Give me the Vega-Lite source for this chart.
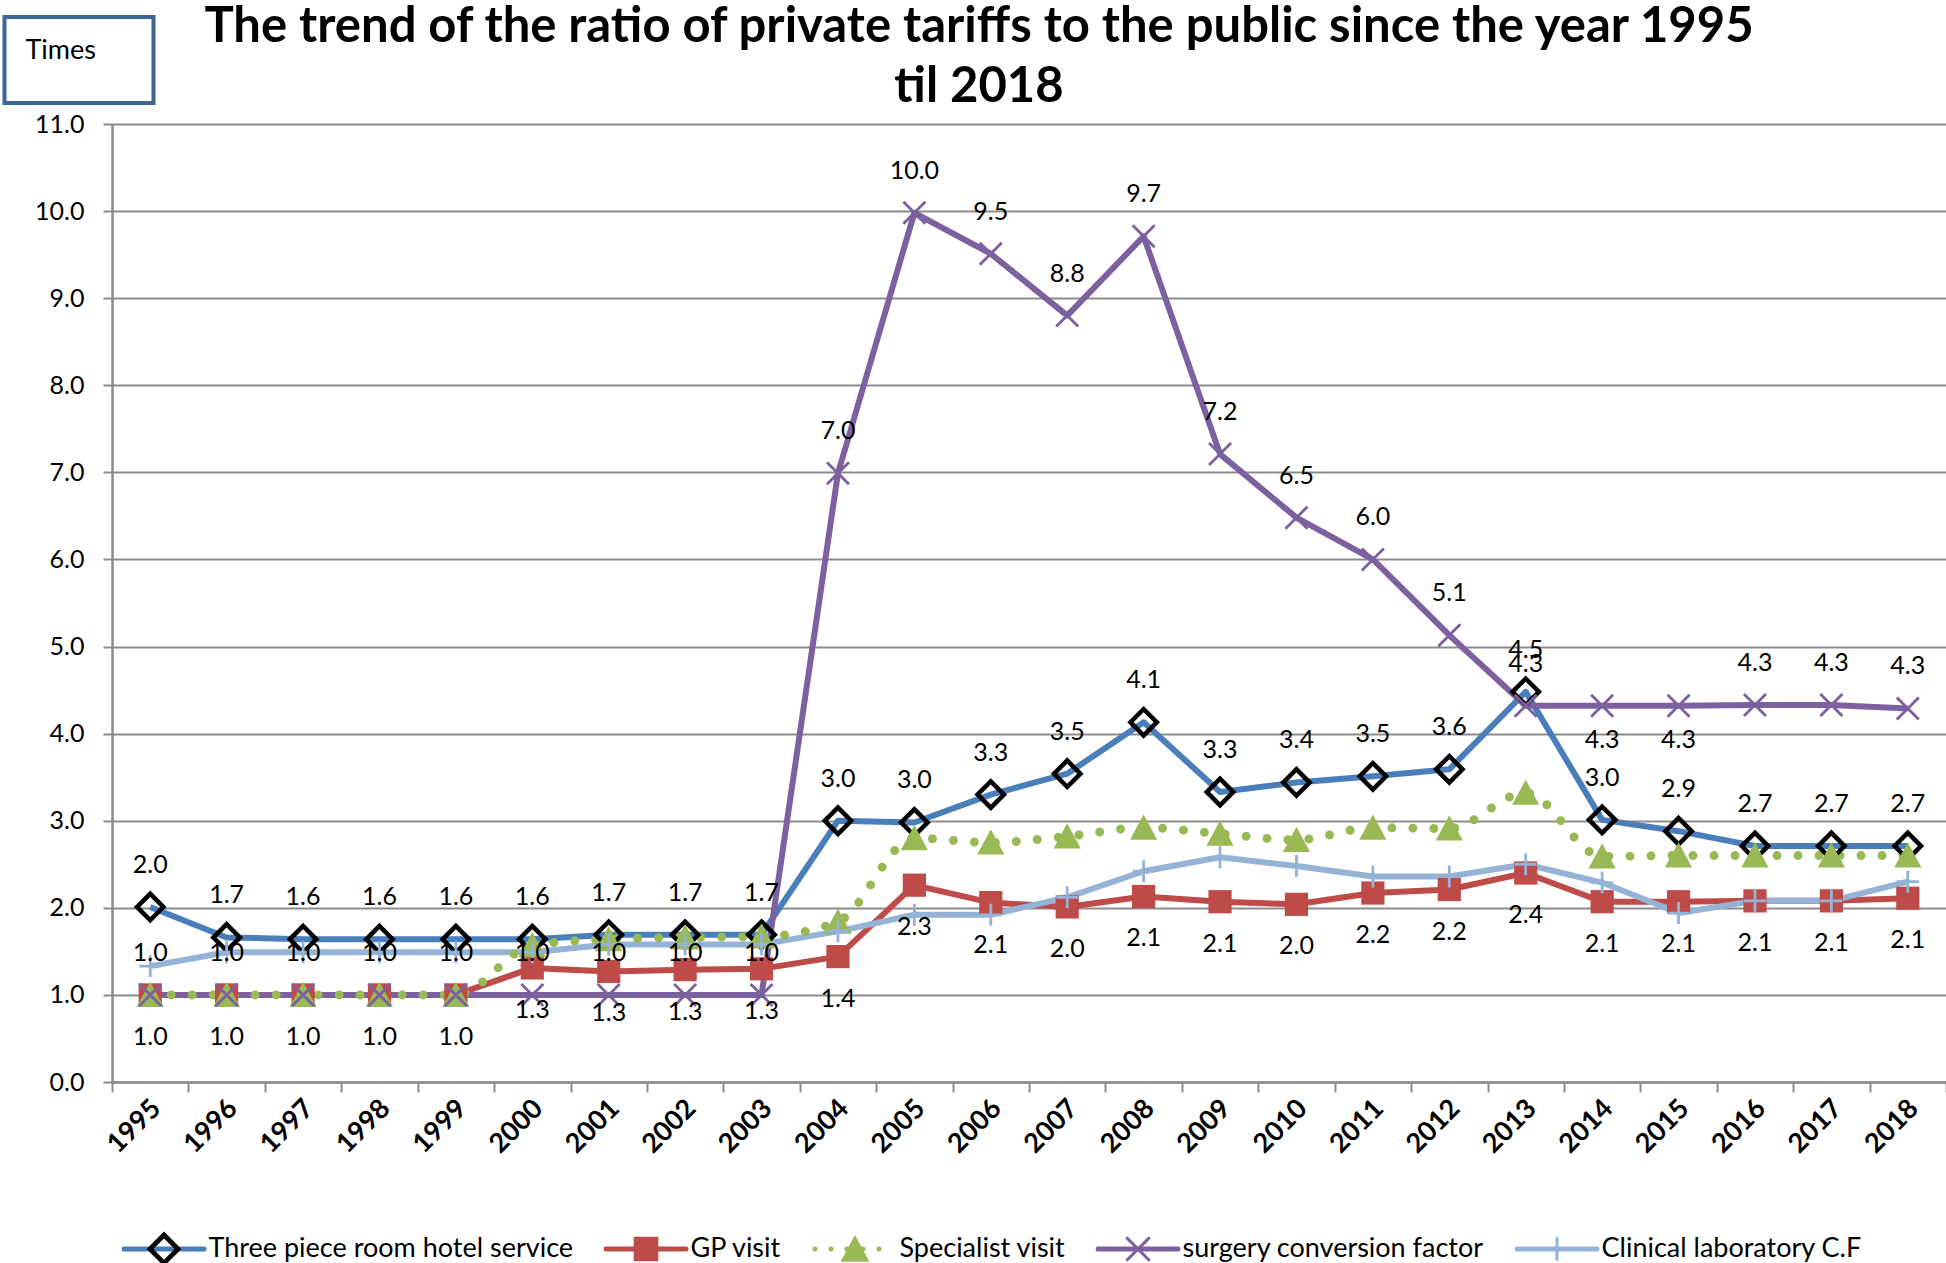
{
  "$schema": "https://vega.github.io/schema/vega-lite/v6.json",
  "width": 1834,
  "height": 958,
  "autosize": {"type": "none"},
  "padding": {"left": 112, "top": 124, "right": 0, "bottom": 181},
  "background": "white",
  "title": {
    "text": ["The trend of the ratio of private tariffs to the public since the year 1995", "til 2018"],
    "font": "Lato",
    "fontSize": 49,
    "fontWeight": "bold",
    "color": "black",
    "lineHeight": 60,
    "anchor": "middle",
    "frame": "group",
    "dx": -50,
    "offset": -97
  },
  "data": {
    "values": [
      {"year": "1995", "series": "Three piece room hotel service", "value": 2.01},
      {"year": "1996", "series": "Three piece room hotel service", "value": 1.66},
      {"year": "1997", "series": "Three piece room hotel service", "value": 1.64},
      {"year": "1998", "series": "Three piece room hotel service", "value": 1.64},
      {"year": "1999", "series": "Three piece room hotel service", "value": 1.64},
      {"year": "2000", "series": "Three piece room hotel service", "value": 1.64},
      {"year": "2001", "series": "Three piece room hotel service", "value": 1.69},
      {"year": "2002", "series": "Three piece room hotel service", "value": 1.69},
      {"year": "2003", "series": "Three piece room hotel service", "value": 1.69},
      {"year": "2004", "series": "Three piece room hotel service", "value": 3.0},
      {"year": "2005", "series": "Three piece room hotel service", "value": 2.98},
      {"year": "2006", "series": "Three piece room hotel service", "value": 3.3},
      {"year": "2007", "series": "Three piece room hotel service", "value": 3.54},
      {"year": "2008", "series": "Three piece room hotel service", "value": 4.13},
      {"year": "2009", "series": "Three piece room hotel service", "value": 3.33},
      {"year": "2010", "series": "Three piece room hotel service", "value": 3.44},
      {"year": "2011", "series": "Three piece room hotel service", "value": 3.51},
      {"year": "2012", "series": "Three piece room hotel service", "value": 3.59},
      {"year": "2013", "series": "Three piece room hotel service", "value": 4.48},
      {"year": "2014", "series": "Three piece room hotel service", "value": 3.01},
      {"year": "2015", "series": "Three piece room hotel service", "value": 2.88},
      {"year": "2016", "series": "Three piece room hotel service", "value": 2.71},
      {"year": "2017", "series": "Three piece room hotel service", "value": 2.71},
      {"year": "2018", "series": "Three piece room hotel service", "value": 2.71},
      {"year": "1995", "series": "GP visit", "value": 1.0},
      {"year": "1996", "series": "GP visit", "value": 1.0},
      {"year": "1997", "series": "GP visit", "value": 1.0},
      {"year": "1998", "series": "GP visit", "value": 1.0},
      {"year": "1999", "series": "GP visit", "value": 1.0},
      {"year": "2000", "series": "GP visit", "value": 1.31},
      {"year": "2001", "series": "GP visit", "value": 1.27},
      {"year": "2002", "series": "GP visit", "value": 1.29},
      {"year": "2003", "series": "GP visit", "value": 1.3},
      {"year": "2004", "series": "GP visit", "value": 1.44},
      {"year": "2005", "series": "GP visit", "value": 2.26},
      {"year": "2006", "series": "GP visit", "value": 2.06},
      {"year": "2007", "series": "GP visit", "value": 2.01},
      {"year": "2008", "series": "GP visit", "value": 2.13},
      {"year": "2009", "series": "GP visit", "value": 2.07},
      {"year": "2010", "series": "GP visit", "value": 2.04},
      {"year": "2011", "series": "GP visit", "value": 2.17},
      {"year": "2012", "series": "GP visit", "value": 2.21},
      {"year": "2013", "series": "GP visit", "value": 2.4},
      {"year": "2014", "series": "GP visit", "value": 2.07},
      {"year": "2015", "series": "GP visit", "value": 2.07},
      {"year": "2016", "series": "GP visit", "value": 2.08},
      {"year": "2017", "series": "GP visit", "value": 2.08},
      {"year": "2018", "series": "GP visit", "value": 2.11},
      {"year": "1995", "series": "Specialist visit", "value": 1.0},
      {"year": "1996", "series": "Specialist visit", "value": 1.0},
      {"year": "1997", "series": "Specialist visit", "value": 1.0},
      {"year": "1998", "series": "Specialist visit", "value": 1.0},
      {"year": "1999", "series": "Specialist visit", "value": 1.0},
      {"year": "2000", "series": "Specialist visit", "value": 1.57},
      {"year": "2001", "series": "Specialist visit", "value": 1.64},
      {"year": "2002", "series": "Specialist visit", "value": 1.66},
      {"year": "2003", "series": "Specialist visit", "value": 1.67},
      {"year": "2004", "series": "Specialist visit", "value": 1.84},
      {"year": "2005", "series": "Specialist visit", "value": 2.8},
      {"year": "2006", "series": "Specialist visit", "value": 2.75},
      {"year": "2007", "series": "Specialist visit", "value": 2.82},
      {"year": "2008", "series": "Specialist visit", "value": 2.92},
      {"year": "2009", "series": "Specialist visit", "value": 2.85},
      {"year": "2010", "series": "Specialist visit", "value": 2.78},
      {"year": "2011", "series": "Specialist visit", "value": 2.92},
      {"year": "2012", "series": "Specialist visit", "value": 2.91},
      {"year": "2013", "series": "Specialist visit", "value": 3.32},
      {"year": "2014", "series": "Specialist visit", "value": 2.59},
      {"year": "2015", "series": "Specialist visit", "value": 2.6},
      {"year": "2016", "series": "Specialist visit", "value": 2.6},
      {"year": "2017", "series": "Specialist visit", "value": 2.6},
      {"year": "2018", "series": "Specialist visit", "value": 2.6},
      {"year": "1995", "series": "surgery conversion factor", "value": 1.0},
      {"year": "1996", "series": "surgery conversion factor", "value": 1.0},
      {"year": "1997", "series": "surgery conversion factor", "value": 1.0},
      {"year": "1998", "series": "surgery conversion factor", "value": 1.0},
      {"year": "1999", "series": "surgery conversion factor", "value": 1.0},
      {"year": "2000", "series": "surgery conversion factor", "value": 1.0},
      {"year": "2001", "series": "surgery conversion factor", "value": 1.0},
      {"year": "2002", "series": "surgery conversion factor", "value": 1.0},
      {"year": "2003", "series": "surgery conversion factor", "value": 1.0},
      {"year": "2004", "series": "surgery conversion factor", "value": 6.99},
      {"year": "2005", "series": "surgery conversion factor", "value": 9.98},
      {"year": "2006", "series": "surgery conversion factor", "value": 9.51},
      {"year": "2007", "series": "surgery conversion factor", "value": 8.8},
      {"year": "2008", "series": "surgery conversion factor", "value": 9.71},
      {"year": "2009", "series": "surgery conversion factor", "value": 7.21},
      {"year": "2010", "series": "surgery conversion factor", "value": 6.48},
      {"year": "2011", "series": "surgery conversion factor", "value": 6.0},
      {"year": "2012", "series": "surgery conversion factor", "value": 5.13},
      {"year": "2013", "series": "surgery conversion factor", "value": 4.32},
      {"year": "2014", "series": "surgery conversion factor", "value": 4.32},
      {"year": "2015", "series": "surgery conversion factor", "value": 4.32},
      {"year": "2016", "series": "surgery conversion factor", "value": 4.33},
      {"year": "2017", "series": "surgery conversion factor", "value": 4.33},
      {"year": "2018", "series": "surgery conversion factor", "value": 4.29},
      {"year": "1995", "series": "Clinical laboratory C.F", "value": 1.33},
      {"year": "1996", "series": "Clinical laboratory C.F", "value": 1.49},
      {"year": "1997", "series": "Clinical laboratory C.F", "value": 1.49},
      {"year": "1998", "series": "Clinical laboratory C.F", "value": 1.49},
      {"year": "1999", "series": "Clinical laboratory C.F", "value": 1.49},
      {"year": "2000", "series": "Clinical laboratory C.F", "value": 1.49},
      {"year": "2001", "series": "Clinical laboratory C.F", "value": 1.58},
      {"year": "2002", "series": "Clinical laboratory C.F", "value": 1.58},
      {"year": "2003", "series": "Clinical laboratory C.F", "value": 1.58},
      {"year": "2004", "series": "Clinical laboratory C.F", "value": 1.73},
      {"year": "2005", "series": "Clinical laboratory C.F", "value": 1.92},
      {"year": "2006", "series": "Clinical laboratory C.F", "value": 1.92},
      {"year": "2007", "series": "Clinical laboratory C.F", "value": 2.12},
      {"year": "2008", "series": "Clinical laboratory C.F", "value": 2.42},
      {"year": "2009", "series": "Clinical laboratory C.F", "value": 2.58},
      {"year": "2010", "series": "Clinical laboratory C.F", "value": 2.48},
      {"year": "2011", "series": "Clinical laboratory C.F", "value": 2.36},
      {"year": "2012", "series": "Clinical laboratory C.F", "value": 2.36},
      {"year": "2013", "series": "Clinical laboratory C.F", "value": 2.5},
      {"year": "2014", "series": "Clinical laboratory C.F", "value": 2.29},
      {"year": "2015", "series": "Clinical laboratory C.F", "value": 1.94},
      {"year": "2016", "series": "Clinical laboratory C.F", "value": 2.08},
      {"year": "2017", "series": "Clinical laboratory C.F", "value": 2.08},
      {"year": "2018", "series": "Clinical laboratory C.F", "value": 2.3}
    ]
  },
  "layer": [
    {
      "transform": [{"filter": "datum.series !== 'Specialist visit'"}],
      "mark": {"type": "line", "strokeWidth": 6, "strokeJoin": "round"},
      "encoding": {
        "x": {"field": "year", "type": "ordinal", "scale": {"type": "band", "paddingInner": 0, "paddingOuter": 0}},
        "y": {"field": "value", "type": "quantitative", "scale": {"domain": [0, 11], "nice": false}, "axis": {"values": [0, 1, 2, 3, 4, 5, 6, 7, 8, 9, 10, 11], "format": ".1f"}},
        "stroke": {
          "field": "series", "type": "nominal",
          "scale": {
            "domain": ["Three piece room hotel service", "GP visit", "Specialist visit", "surgery conversion factor", "Clinical laboratory C.F"],
            "range": ["#4A7EBB", "#BE4B48", "#98B954", "#7D60A0", "#95B3D7"]
          },
          "legend": {
            "title": null, "orient": "none", "legendX": 9.5, "legendY": 1107,
            "direction": "horizontal", "columns": 5,
            "symbolType": "stroke", "symbolSize": 6400, "symbolStrokeWidth": 5,
            "clipHeight": 36, "labelFontSize": 27, "labelOffset": 2, "columnPadding": 30,
            "labelLimit": 800, "padding": 0,
            "encode": {"symbols": {"update": {"strokeDash": {"signal": "datum.value === 'Specialist visit' ? [0, 16] : [1, 0]"}, "strokeCap": {"value": "round"}}}}
          }
        }
      }
    },
    {
      "transform": [{"filter": "datum.series === 'Specialist visit'"}],
      "mark": {"type": "line", "stroke": "#98B954", "strokeWidth": 9, "strokeDash": [0, 21], "strokeCap": "round", "interpolate": "monotone"},
      "encoding": {
        "x": {"field": "year", "type": "ordinal", "scale": {"type": "band", "paddingInner": 0, "paddingOuter": 0}},
        "y": {"field": "value", "type": "quantitative", "scale": {"domain": [0, 11], "nice": false}}
      }
    },
    {
      "mark": {"type": "point", "filled": true, "size": 6400, "strokeWidth": 0, "opacity": 1},
      "encoding": {
        "x": {"field": "year", "type": "ordinal", "scale": {"type": "band", "paddingInner": 0, "paddingOuter": 0}},
        "y": {"field": "value", "type": "quantitative", "scale": {"domain": [0, 11], "nice": false}},
        "fill": {
          "field": "series", "type": "nominal",
          "scale": {
            "domain": ["Three piece room hotel service", "GP visit", "Specialist visit", "surgery conversion factor", "Clinical laboratory C.F"],
            "range": ["black", "#BE4B48", "#98B954", "#7D60A0", "#95B3D7"]
          },
          "legend": {
            "title": null, "orient": "none", "legendX": 9.5, "legendY": 1107,
            "direction": "horizontal", "columns": 5,
            "symbolSize": 7225, "symbolStrokeWidth": 0,
            "clipHeight": 36, "labelFontSize": 27, "labelOffset": 2, "columnPadding": 30,
            "labelLimit": 800, "padding": 0, "labelOpacity": 0
          }
        },
        "shape": {
          "field": "series", "type": "nominal",
          "scale": {
            "domain": ["Three piece room hotel service", "GP visit", "Specialist visit", "surgery conversion factor", "Clinical laboratory C.F"],
            "range": [
              "M0,-0.41L0.41,0L0,0.41L-0.41,0ZM0,-0.25L-0.25,0L0,0.25L0.25,0Z",
              "M-0.29,-0.29H0.29V0.29H-0.29Z",
              "M0,-0.33L0.34,0.3L-0.34,0.3Z",
              "M-0.25,-0.3L0.3,0.25L0.25,0.3L-0.3,-0.25ZM-0.3,0.25L0.25,-0.3L0.3,-0.25L-0.25,0.3Z",
              "M-0.035,-0.275H0.035V0.275H-0.035ZM-0.275,-0.035H0.275V0.035H-0.275Z"
            ]
          },
          "legend": {
            "title": null, "orient": "none", "legendX": 9.5, "legendY": 1107,
            "direction": "horizontal", "columns": 5,
            "symbolSize": 7225, "symbolStrokeWidth": 0,
            "clipHeight": 36, "labelFontSize": 27, "labelOffset": 2, "columnPadding": 30,
            "labelLimit": 800, "padding": 0, "labelOpacity": 0
          }
        }
      }
    },
    {
      "transform": [{"filter": "datum.series === 'Three piece room hotel service'"}],
      "mark": {"type": "text", "dy": -42, "fontSize": 25, "font": "Lato", "color": "black"},
      "encoding": {
        "x": {"field": "year", "type": "ordinal", "scale": {"type": "band", "paddingInner": 0, "paddingOuter": 0}},
        "y": {"field": "value", "type": "quantitative", "scale": {"domain": [0, 11], "nice": false}},
        "text": {"field": "value", "type": "quantitative", "format": ".1f"}
      }
    },
    {
      "transform": [{"filter": "datum.series === 'GP visit'"}],
      "mark": {"type": "text", "dy": 42, "fontSize": 25, "font": "Lato", "color": "black"},
      "encoding": {
        "x": {"field": "year", "type": "ordinal", "scale": {"type": "band", "paddingInner": 0, "paddingOuter": 0}},
        "y": {"field": "value", "type": "quantitative", "scale": {"domain": [0, 11], "nice": false}},
        "text": {"field": "value", "type": "quantitative", "format": ".1f"}
      }
    },
    {
      "transform": [{"filter": "datum.series === 'surgery conversion factor' && datum.year !== '2014' && datum.year !== '2015'"}],
      "mark": {"type": "text", "dy": -42, "fontSize": 25, "font": "Lato", "color": "black"},
      "encoding": {
        "x": {"field": "year", "type": "ordinal", "scale": {"type": "band", "paddingInner": 0, "paddingOuter": 0}},
        "y": {"field": "value", "type": "quantitative", "scale": {"domain": [0, 11], "nice": false}},
        "text": {"field": "value", "type": "quantitative", "format": ".1f"}
      }
    },
    {
      "transform": [{"filter": "datum.series === 'surgery conversion factor' && (datum.year === '2014' || datum.year === '2015')"}],
      "mark": {"type": "text", "dy": 34, "fontSize": 25, "font": "Lato", "color": "black"},
      "encoding": {
        "x": {"field": "year", "type": "ordinal", "scale": {"type": "band", "paddingInner": 0, "paddingOuter": 0}},
        "y": {"field": "value", "type": "quantitative", "scale": {"domain": [0, 11], "nice": false}},
        "text": {"field": "value", "type": "quantitative", "format": ".1f"}
      }
    },
    {
      "transform": [{"filter": "datum.series === 'GP visit' && datum.year === '1995'"}],
      "mark": {"type": "point", "opacity": 0},
      "encoding": {
        "x": {"field": "year", "type": "ordinal", "scale": {"type": "band", "paddingInner": 0, "paddingOuter": 0}},
        "y": {"field": "value", "type": "quantitative", "scale": {"domain": [0, 11], "nice": false}},
        "shape": {
          "datum": "Times",
          "legend": {
            "title": "Times", "orient": "none", "legendX": -107.5, "legendY": -107,
            "titleFont": "Lato", "titleFontSize": 27, "titleFontWeight": "normal", "titleColor": "black",
            "titlePadding": 7, "titleLimit": 600, "padding": 21,
            "strokeColor": "#3A6595",
            "symbolSize": 0, "symbolStrokeWidth": 0, "symbolOpacity": 0,
            "labelExpr": "'MMMMMMMMMMM'", "labelFontSize": 9.5, "labelOpacity": 0, "labelOffset": 0
          }
        }
      }
    }
  ],
  "resolve": {
    "scale": {"stroke": "independent", "fill": "independent", "shape": "independent"},
    "legend": {"stroke": "independent", "fill": "independent", "shape": "independent"}
  },
  "config": {
    "view": {"stroke": null},
    "font": "Lato",
    "legend": {"labelFont": "Lato", "labelColor": "black", "strokeWidth": 4},
    "axisY": {
      "grid": true, "gridColor": "#8B8B8B", "gridWidth": 2,
      "domainColor": "#8B8B8B", "domainWidth": 2.5,
      "tickColor": "#8B8B8B", "tickWidth": 2, "tickSize": 9,
      "labelPadding": 19, "labelFontSize": 25, "labelFont": "Lato", "labelColor": "black",
      "title": null
    },
    "axisX": {
      "grid": false, "tickBand": "extent",
      "domainColor": "#8B8B8B", "domainWidth": 2.5,
      "tickColor": "#8B8B8B", "tickWidth": 2, "tickSize": 10,
      "labelAngle": -45, "labelAlign": "right", "labelBaseline": "middle",
      "labelPadding": 12, "labelOffset": 6,
      "labelFontSize": 27, "labelFontWeight": "bold", "labelFont": "Lato", "labelColor": "black",
      "title": null
    }
  }
}
